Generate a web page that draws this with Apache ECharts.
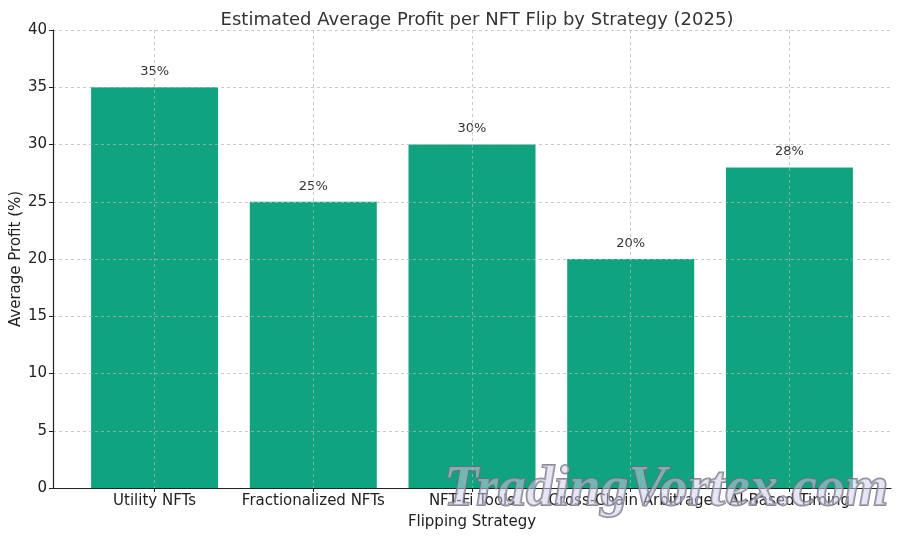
<!DOCTYPE html>
<html>
<head>
<meta charset="utf-8">
<script src="https://cdn.jsdelivr.net/npm/echarts@6/dist/echarts.min.js"></script>
<style>
  html, body { margin: 0; padding: 0; background: #fff; }
  #chart { width: 900px; height: 537px; }
</style>
</head>
<body>
<div id="chart"></div>
<script>
var chart = echarts.init(document.getElementById('chart'));

const strategies = ['Utility NFTs', 'Fractionalized NFTs', 'NFT-Fi Tools', 'Cross-Chain Arbitrage', 'AI-Based Timing'];
const profits = [35, 25, 30, 20, 28];
const positions = [0, 1, 2, 3, 4];

const font = 'DejaVu Sans';
const gridLine = { show: true, lineStyle: { color: 'rgba(180,180,180,0.7)', type: [3, 3], width: 1 } };

var option = {
  animation: false,
  backgroundColor: '#fff',
  textStyle: { fontFamily: font },
  title: {
    text: 'Estimated Average Profit per NFT Flip by Strategy (2025)',
    left: 472,
    top: 6,
    textAlign: 'center',
    textStyle: { fontFamily: font, fontSize: 18, fontWeight: 'normal', color: '#333' }
  },
  grid: { left: 53, right: 9, top: 30, bottom: 49, outerBoundsMode: 'none', containLabel: false },
  xAxis: {
    type: 'value',
    min: -0.64,
    max: 4.64,
    z: 3,
    name: 'Flipping Strategy',
    nameLocation: 'middle',
    nameGap: 27,
    nameMoveOverlap: false,
    nameTextStyle: { fontFamily: font, fontSize: 15, color: '#222' },
    axisLine: { show: true, onZero: false, lineStyle: { color: '#222', width: 1.2 } },
    axisTick: { show: true, length: 4, lineStyle: { color: '#222' }, customValues: positions },
    axisLabel: {
      customValues: positions,
      formatter: function (v) { return strategies[Math.round(v)]; },
      fontFamily: font, fontSize: 15, color: '#222', margin: 6
    },
    splitLine: gridLine
  },
  yAxis: {
    type: 'value',
    min: 0,
    max: 40,
    interval: 5,
    z: 3,
    name: 'Average Profit (%)',
    nameLocation: 'middle',
    nameGap: 29,
    nameMoveOverlap: false,
    nameTextStyle: { fontFamily: font, fontSize: 15, color: '#222' },
    axisLine: { show: true, onZero: false, lineStyle: { color: '#222', width: 1.2 } },
    axisTick: { show: true, length: 4, lineStyle: { color: '#222' } },
    axisLabel: { fontFamily: font, fontSize: 15, color: '#222', margin: 6 },
    splitLine: gridLine
  },
  series: [{
    type: 'bar',
    data: positions.map((p, i) => [p, profits[i]]),
    barWidth: 127,
    itemStyle: { color: '#10a37f' },
    z: 2,
    label: {
      show: true,
      position: 'top',
      distance: 9,
      formatter: p => p.value[1] + '%',
      fontFamily: font,
      fontSize: 13,
      color: '#333'
    }
  }],
  graphic: [{
    type: 'text',
    left: 443,
    top: 462,
    z: 100,
    style: {
      text: 'TradingVortex.com',
      font: 'italic bold 56px "Liberation Serif"',
      fill: 'rgba(205,205,235,0.5)',
      stroke: 'rgba(110,110,120,0.8)',
      lineWidth: 2
    }
  }]
};

chart.setOption(option);
</script>
</body>
</html>
